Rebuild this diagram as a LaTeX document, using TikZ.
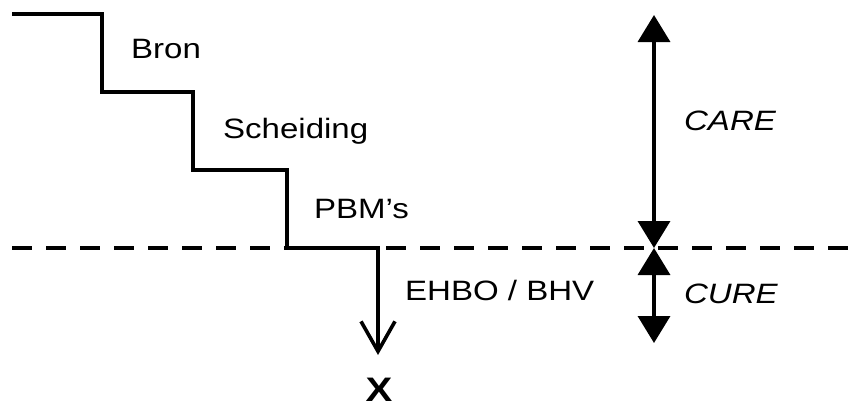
\documentclass[tikz,border=0pt]{standalone}
\usepackage{fontspec}
\setmainfont{Liberation Sans}
\usetikzlibrary{arrows.meta}

\begin{document}
\begin{tikzpicture}[x=1pt,y=-1pt,line width=3.6pt,
  lbl/.style={font=\fontsize{28}{34}\selectfont,xscale=1.18,anchor=base west,inner sep=0pt},
  span/.style={{Triangle[length=27pt,width=32pt]}-{Triangle[length=27pt,width=32pt]}}]
\useasboundingbox (0,0) rectangle (864,405);
% dashed border between care and cure
\draw[dash pattern=on 20pt off 14pt] (12,248) -- (858,248);
% staircase
\coordinate (start) at (12,14);
\coordinate (end) at (378,355);
\draw[-{Straight Barb[length=30pt,width=34pt]}] (start) -- (102,14) -- (102,92) -- (193,92) -- (193,170) -- (287,170) -- (287,248) -- (378,248) -- (end);
\node[lbl] (bron) at (129,58) {Bron};
\node[lbl] (scheiding) at (221,138) {Scheiding};
\node[lbl] (pbm) at (312,218) {PBM’s};
\node[lbl] (ehbo) at (403,300) {EHBO / BHV};
\node[font=\bfseries\fontsize{34}{40}\selectfont,xscale=1.18,anchor=base,inner sep=0pt] (x) at (379,401) {X};
% care and cure
\coordinate (top) at (654,15);
\coordinate (mid) at (654,248);
\coordinate (bot) at (654,343);
\draw[span] (top) -- (mid);
\draw[span] (mid) -- (bot);
\node[lbl,font=\itshape\fontsize{28}{34}\selectfont] (care) at (682,130) {CARE};
\node[lbl,font=\itshape\fontsize{28}{34}\selectfont] (cure) at (682,303) {CURE};
\end{tikzpicture}
\end{document}
